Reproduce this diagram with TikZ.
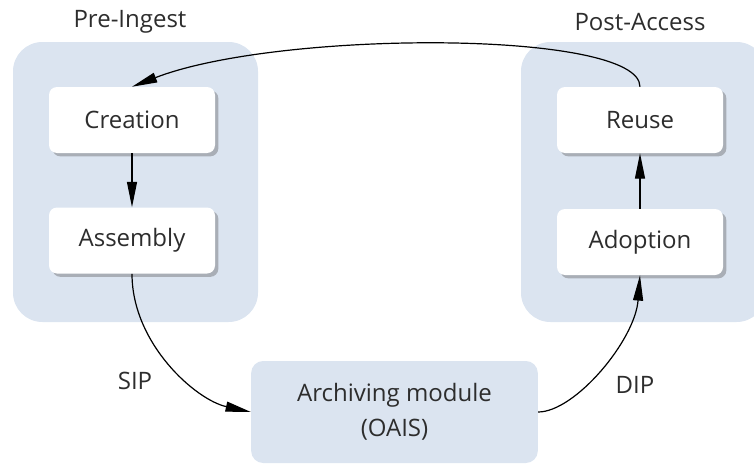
\documentclass[tikz,border=0pt]{standalone}
\usepackage{fontspec}
\setmainfont{Open Sans}
\usepackage{tikz}
\usetikzlibrary{positioning,shadows,arrows.meta}
\definecolor{paleblue}{RGB}{219,228,240}
\definecolor{inktext}{RGB}{45,45,45}
\tikzset{
  >={Triangle[length=19pt,width=7.5pt]},
  phase/.style={rectangle, rounded corners=22pt, fill=paleblue, minimum width=183.75pt, minimum height=210pt},
  stage/.style={rectangle, rounded corners=6pt, fill=white, text=inktext, minimum width=124.5pt, minimum height=49.5pt,
    drop shadow={shadow xshift=2.5pt, shadow yshift=-2.5pt, opacity=0.35, fill=black!70}},
  archive/.style={rectangle, rounded corners=9pt, fill=paleblue, text=inktext, minimum width=215pt, minimum height=76.5pt, align=center},
  head/.style={text=inktext},
  flow/.style={->, line width=0.9pt}
}
\begin{document}
\begin{tikzpicture}[x=0.75pt, y=0.75pt, font=\fontsize{18pt}{26pt}\selectfont]
  \useasboundingbox (0,0) rectangle (754,-464);
  \begin{scope}
  \clip (0,0) rectangle (754,-464);
  % the two phases
  \node[phase] (pre) at (135.5,-182) {};
  \node[phase] (post) at (643.5,-182) {};
  \node[head] (prelbl) at (130,-22) {Pre-Ingest};
  \node[head] (postlbl) at (640,-22) {Post-Access};

  % stages
  \node[stage] (creation) at (132,-120) {Creation};
  \node[stage] (assembly) at (132,-240.5) {Assembly};
  \node[stage] (reuse) at (640,-120) {Reuse};
  \node[stage] (adoption) at (640,-242) {Adoption};

  % archive
  \node[archive] (oais) at (394.5,-412) {Archiving module\\(OAIS)};
  \node[head] (sip) at (135,-381) {SIP};
  \node[head] (dip) at (635,-385) {DIP};

  % connectors
  \draw[flow] (creation) -- (assembly);
  \draw[flow] (adoption) -- (reuse);
  \draw[flow] (reuse.north) .. controls +(0,57) and +(147,57) .. (creation.north);
  \draw[flow] (assembly.south) .. controls +(0,-70) and +(-55,12) .. (oais.west);
  \draw[flow] (oais.east) .. controls +(37,0) and +(-5,-65) .. (adoption.south);
  \end{scope}
\end{tikzpicture}
\end{document}
